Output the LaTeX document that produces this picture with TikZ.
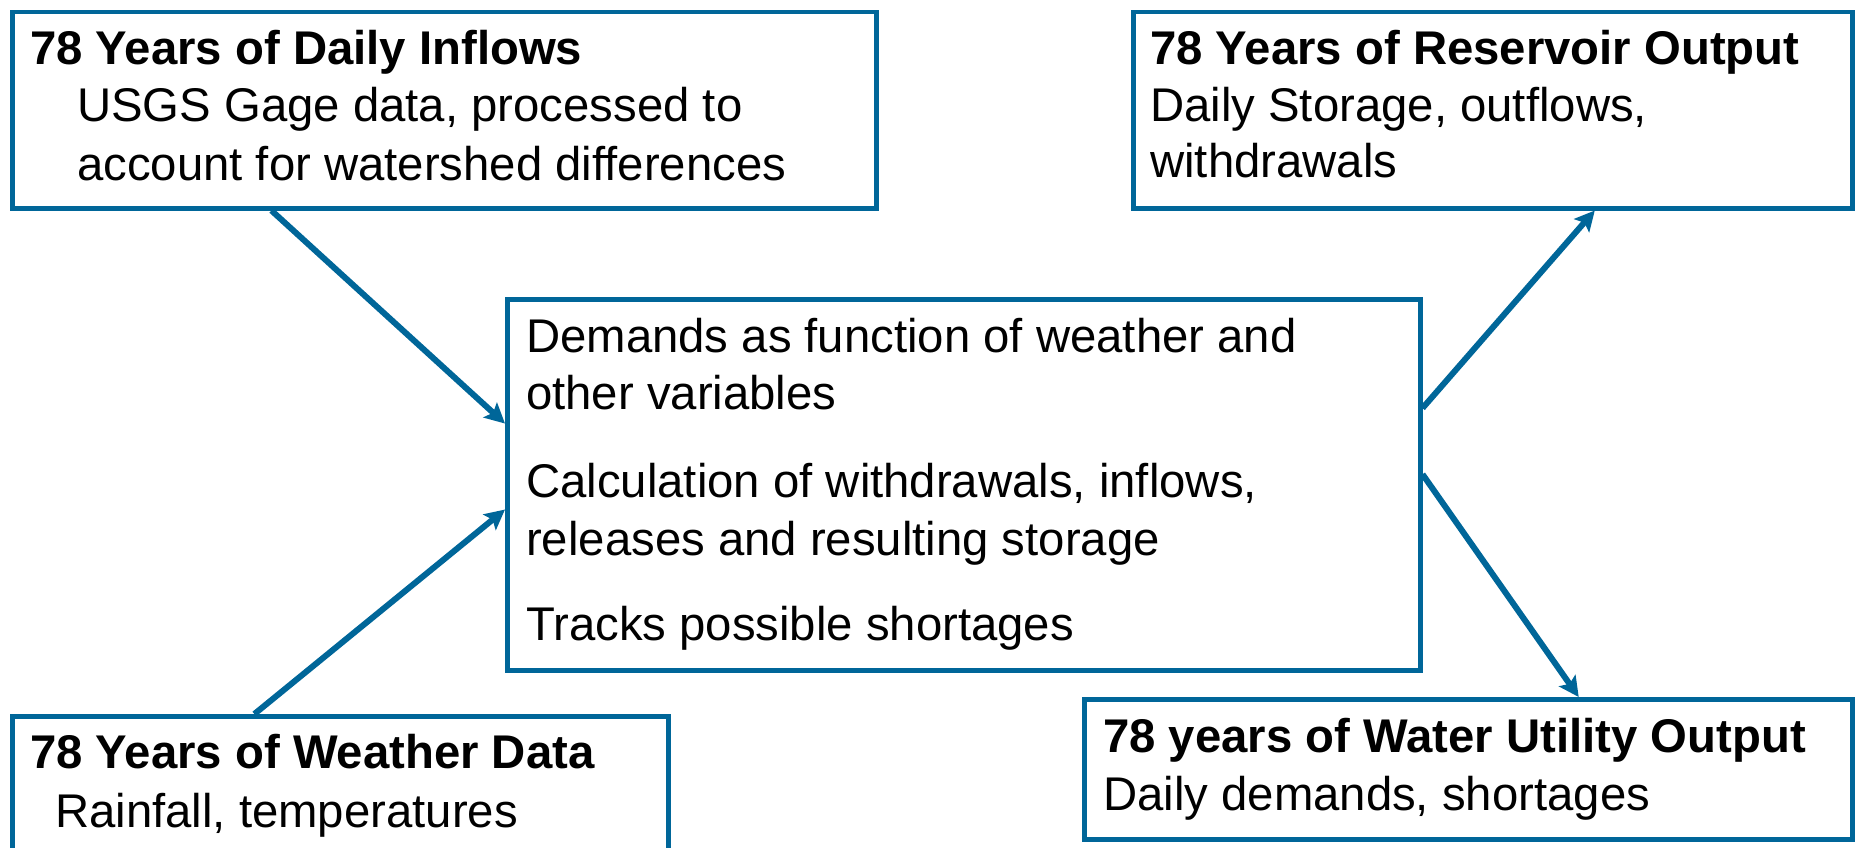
\documentclass[tikz,border=0pt]{standalone}
\usepackage{fontspec}
\setmainfont{Liberation Sans}
\usetikzlibrary{arrows.meta,calc}
\definecolor{frameblue}{RGB}{0,102,153}
\begin{document}
\begin{tikzpicture}[x=1pt,y=-1pt,
  box/.style={draw=frameblue, line width=4.5pt, rectangle, inner sep=0pt, anchor=north west},
  txt/.style={anchor=base west, inner sep=0pt, font=\fontsize{47.3}{57}\selectfont},
  ttl/.style={anchor=base west, inner sep=0pt, font=\fontsize{47.3}{57}\selectfont\bfseries},
  flow/.style={draw=frameblue, line width=6pt, -{Stealth[length=20pt,width=20pt,inset=4pt]}}]
\useasboundingbox (0,0) rectangle (1856,848);
\clip (0,0) rectangle (1856,848);

% boxes
\node[box, minimum width=864pt, minimum height=196pt] (inflow) at (10,10) {};
\node[box, minimum width=719pt, minimum height=196pt] (reservoir) at (1131,10) {};
\node[box, minimum width=913pt, minimum height=371pt] (calc) at (505,297) {};
\node[box, minimum width=656pt, minimum height=160pt] (weather) at (10,714) {};
\node[box, minimum width=768pt, minimum height=140pt] (utility) at (1082,697) {};

% texts
\node[ttl] (inflowT) at (30,65) {78 Years of Daily Inflows};
\node[txt] (inflowA) at (77,122) {USGS Gage data, processed to};
\node[txt] (inflowB) at (77,180) {account for watershed differences};

\node[ttl] (reservoirT) at (1150,65) {78 Years of Reservoir Output};
\node[txt] (reservoirA) at (1150,122) {Daily Storage, outflows,};
\node[txt] (reservoirB) at (1150,178) {withdrawals};

\node[txt] (calcA) at (526,352) {Demands as function of weather and};
\node[txt] (calcB) at (526,409) {other variables};
\node[txt] (calcC) at (526,497) {Calculation of withdrawals, inflows,};
\node[txt] (calcD) at (526,555) {releases and resulting storage};
\node[txt] (calcE) at (526,640) {Tracks possible shortages};

\node[ttl] (weatherT) at (30,768) {78 Years of Weather Data};
\node[txt] (weatherA) at (55,827) {Rainfall, temperatures};

\node[ttl] (utilityT) at (1103,752) {78 years of Water Utility Output};
\node[txt] (utilityA) at (1103,810) {Daily demands, shortages};

% connectors
\draw[flow] ($(inflow.south west)!0.301!(inflow.south east)$) -- ($(calc.north west)!0.337!(calc.south west)$);
\draw[flow] ($(weather.north west)!0.370!(weather.north east)$) -- ($(calc.north west)!0.566!(calc.south west)$);
\draw[flow] ($(calc.north east)!0.296!(calc.south east)$) -- ($(reservoir.south west)!0.641!(reservoir.south east)$);
\draw[flow] ($(calc.north east)!0.472!(calc.south east)$) -- ($(utility.north west)!0.643!(utility.north east)$);
\end{tikzpicture}
\end{document}
